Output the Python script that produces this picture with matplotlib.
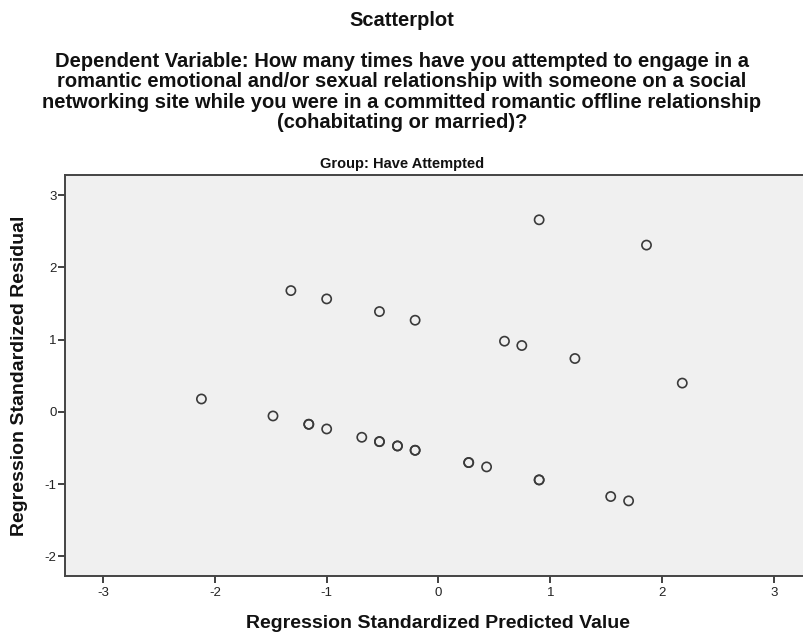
import matplotlib
matplotlib.use("Agg")
import matplotlib.pyplot as plt

plt.rcParams['font.family'] = ['Liberation Sans', 'DejaVu Sans']

pred = [0.90, 1.86, 0.59, 0.745, 1.22, 2.18,
        -1.32, -1.00, -0.528, -0.209,
        -2.12, -1.48, -1.16, -1.16, -1.00, -0.686,
        -0.528, -0.528, -0.367, -0.367, -0.209, -0.209,
        0.27, 0.27, 0.43, 0.90, 0.90, 1.54, 1.70]
resid = [2.66, 2.31, 0.98, 0.92, 0.74, 0.40,
         1.68, 1.565, 1.39, 1.27,
         0.18, -0.055, -0.17, -0.17, -0.235, -0.35,
         -0.41, -0.41, -0.47, -0.47, -0.53, -0.53,
         -0.70, -0.70, -0.76, -0.94, -0.94, -1.17, -1.23]
xticks = [-3, -2, -1, 0, 1, 2, 3]
yticks = [-2, -1, 0, 1, 2, 3]

title = "Scatterplot"
subtitle = ("Dependent Variable: How many times have you attempted to engage in a\n"
            "romantic emotional and/or sexual relationship with someone on a social\n"
            "networking site while you were in a committed romantic offline relationship\n"
            "(cohabitating or married)?")
group = "Group: Have Attempted"

W, H = 804, 636
fig = plt.figure(figsize=(W / 100, H / 100), dpi=100)
fig.patch.set_facecolor('white')

left, right, top, bottom = 65, 812, 175, 576
ax = fig.add_axes([left / W, 1 - bottom / H, (right - left) / W, (bottom - top) / H])
ax.set_facecolor('#F0F0F0')
ax.scatter(pred, resid, s=44, facecolors='none', edgecolors='#3a3a3a', linewidths=1.2, zorder=3)

ax.set_xlim(-3.34, 3.34)
ax.set_ylim(-2.27, 3.28)
ax.set_xticks(xticks)
ax.set_yticks(yticks)
ax.set_xticklabels([str(t) for t in xticks])
ax.set_yticklabels([str(t) for t in yticks])
ax.tick_params(direction='out', length=5, width=1.3, colors='#333333', labelsize=9.5,
               labelcolor='#222222')
ax.tick_params(axis='x', pad=3)
ax.tick_params(axis='y', pad=1)
for s in ['left', 'bottom', 'top']:
    ax.spines[s].set_color('#444444')
    ax.spines[s].set_linewidth(1.4)
ax.spines['right'].set_visible(False)

fig.text(0.5, 1 - 21 / H, title, ha='center', va='center', fontsize=14.5, fontweight='bold', color='#111111')
fig.text(0.5, 1 - 92 / H, subtitle, ha='center', va='center', fontsize=14.5, fontweight='bold',
         color='#111111', linespacing=1.08)
fig.text(0.5, 1 - 164 / H, group, ha='center', va='center', fontsize=10.5, fontweight='bold', color='#111111')
fig.text(438 / W, 1 - 624 / H, "Regression Standardized Predicted Value", ha='center', va='center',
         fontsize=14, fontweight='bold', color='#111111')
fig.text(20 / W, 1 - 376 / H, "Regression Standardized Residual", ha='center', va='center',
         rotation=90, fontsize=14, fontweight='bold', color='#111111')

fig.savefig('out.png', dpi=100)
